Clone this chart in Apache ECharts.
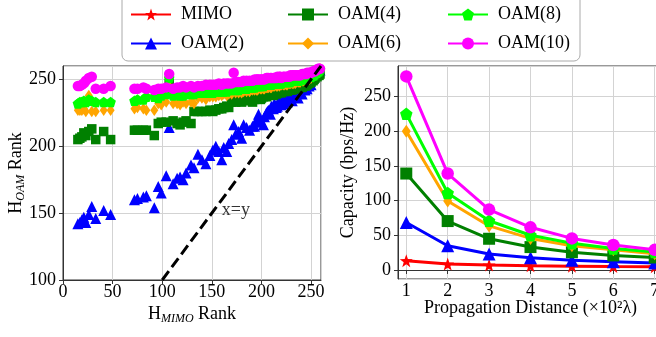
<!DOCTYPE html>
<html>
<head>
<meta charset="utf-8">
<script src="https://cdn.jsdelivr.net/npm/echarts@6.0.0/dist/echarts.min.js"></script>
<style>
html, body { margin: 0; padding: 0; background: #fff; }
#chart { width: 656px; height: 337px; }
</style>
</head>
<body>
<div id="chart"></div>
<script>
// right panel: capacity vs propagation distance (x100 lambda)
const distance = [1, 2, 3, 4, 5, 6, 7];
const capMIMO = [13.4, 8.5, 7, 6, 5.5, 5, 4.7];
const capOAM2 = [68.5, 35, 23, 17.5, 14, 12, 10];
const capOAM4 = [139, 70.5, 45, 33, 25.5, 21, 18];
const capOAM6 = [200, 99.5, 63.5, 45.5, 35, 29, 23.5];
const capOAM8 = [225, 111, 71, 50, 38.5, 31, 26];
const capOAM10 = [279, 139, 87, 61.5, 45.5, 36, 29];

// left panel: rank of H_MIMO vs rank of H_OAM, one entry per realisation
const mimoRank = [
  15, 17, 19, 21, 23, 26, 29, 33, 41, 48,
  72, 75, 81, 84, 92, 96, 99, 104, 107, 111,
  115, 118, 121, 124, 129, 132, 136, 140, 144, 148,
  151, 154, 157, 160, 162, 165, 167, 170, 172, 174,
  177, 180, 182, 185, 188, 191, 193, 195, 197, 199,
  202, 205, 207, 210, 212, 215, 218, 220, 223, 226,
  228, 231, 234, 237, 239, 241, 244, 246, 248, 250,
  252, 254, 256, 258, 259,
  196, 200, 203, 206, 209, 213, 216, 219, 222, 225,
  229, 232, 235, 238, 242, 245, 249, 253, 257
];
const rankOAM2 = [
  142, 143, 145, 147, 143, 149, 155, 146, 152, 149,
  160, 161, 162, 163, 154, 170, 165, 178, 214, 172,
  176, 177, 175, 180, 186, 184, 194, 190, 187, 193,
  197, 200, 196, 190, 199, 196, 202, 205, 216, 209,
  211, 206, 216, 214, 212, 215, 215, 219, 224, 219,
  216, 225, 227, 230, 228, 229, 233, 231, 235, 233,
  235, 234, 237, 236, 240, 239, 242, 243, 245, 246,
  251, 253, 254, 256, 257,
  221, 218, 222, 226, 224, 232, 230, 236, 232, 238,
  237, 239, 240, 243, 244, 246, 249, 252, 256
];
const rankOAM4 = [
  205, 206, 207, 210, 208, 211, 213, 205, 211, 205,
  212, 212, 212, 212, 208, 217, 218, 218, 247, 219,
  217, 216, 218, 219, 217, 226, 226, 226, 226, 227,
  226, 227, 228, 228, 229, 230, 229, 233, 238, 233,
  234, 233, 235, 236, 234, 233, 235, 236, 236, 235,
  237, 237, 238, 239, 238, 239, 240, 240, 241, 241,
  242, 242, 243, 243, 244, 244, 245, 246, 247, 248,
  249, 251, 252, 253, 254,
  237, 236, 238, 238, 239, 240, 240, 241, 241, 242,
  242, 243, 243, 244, 245, 246, 248, 250, 253
];
const rankOAM6 = [
  227, 227, 227, 228, 226, 238, 226, 226, 227, 227,
  228, 229, 228, 227, 227, 232, 231, 233, 249, 232,
  232, 231, 233, 232, 233, 232, 236, 236, 235, 237,
  237, 237, 238, 238, 239, 238, 239, 239, 244, 240,
  240, 240, 241, 241, 241, 242, 242, 242, 243, 243,
  243, 244, 244, 244, 245, 245, 245, 246, 246, 246,
  247, 247, 247, 248, 248, 249, 249, 250, 250, 251,
  252, 253, 255, 257, 258,
  242, 243, 243, 244, 244, 245, 245, 246, 246, 246,
  247, 247, 248, 248, 249, 250, 251, 253, 256
];
const rankOAM8 = [
  232, 233, 233, 234, 233, 235, 234, 233, 233, 233,
  234, 235, 235, 237, 237, 236, 238, 239, 251, 238,
  239, 238, 238, 239, 239, 239, 240, 240, 240, 240,
  240, 241, 241, 241, 241, 241, 242, 242, 247, 242,
  242, 243, 243, 243, 244, 244, 244, 245, 245, 245,
  245, 246, 246, 246, 247, 247, 247, 247, 248, 248,
  248, 249, 249, 249, 250, 250, 251, 251, 252, 252,
  253, 254, 255, 256, 257,
  245, 245, 246, 246, 246, 247, 247, 247, 248, 248,
  248, 249, 249, 249, 250, 251, 252, 253, 256
];
const rankOAM10 = [
  245, 245, 246, 247, 249, 251, 252, 243, 243, 245,
  243, 243, 244, 243, 242, 243, 243, 244, 254, 243,
  244, 244, 245, 244, 245, 244, 245, 245, 246, 246,
  246, 246, 247, 246, 247, 247, 247, 247, 255, 248,
  248, 248, 249, 249, 249, 249, 250, 250, 250, 250,
  250, 251, 251, 251, 251, 251, 252, 251, 252, 252,
  252, 253, 253, 253, 253, 254, 254, 255, 255, 255,
  256, 256, 257, 258, 258,
  250, 250, 250, 251, 251, 251, 252, 252, 252, 252,
  253, 253, 253, 253, 254, 254, 255, 256, 258
];
const diagLine = [[100, 100], [260, 260]];
const diagText = [[159, 152]];

const FONT = 'Liberation Serif';
const names = ['MIMO', 'OAM(2)', 'OAM(4)', 'OAM(6)', 'OAM(8)', 'OAM(10)'];
const colors = ['#ff0000', '#0000ff', '#008000', '#ffa500', '#00ff00', '#ff00ff'];
const starPath = 'path://M0,-10L2.35,-3.24L9.51,-3.09L3.8,1.24L5.88,8.09L0,4L-5.88,8.09L-3.8,1.24L-9.51,-3.09L-2.35,-3.24Z';
const pentPath = 'path://M0,-10L9.51,-3.09L5.88,8.09L-5.88,8.09L-9.51,-3.09Z';
const symbols = [starPath, 'triangle', 'rect', 'diamond', pentPath, 'circle'];
const lineSymbolSize = [13, 13, 12, [9, 13], 12.5, 12.5];
const dotSymbolSize = [0, 11, 9.5, [8, 11.5], 10.5, 10.5];
const capacity = [capMIMO, capOAM2, capOAM4, capOAM6, capOAM8, capOAM10];
const ranks = [null, rankOAM2, rankOAM4, rankOAM6, rankOAM8, rankOAM10];

const tickText = {fontFamily: FONT, fontSize: 18, color: '#000'};
const nameRich = {
    a: {fontFamily: FONT, fontSize: 18, color: '#000', lineHeight: 22},
    s: {fontFamily: FONT, fontSize: 12, fontStyle: 'italic', color: '#000', lineHeight: 12, verticalAlign: 'bottom'}
};

function axisCommon () {
    return {
        type: 'value',
        nameMoveOverlap: false,
        axisLine: {show: true, lineStyle: {color: '#333', width: 1}},
        axisTick: {show: true, length: 4, lineStyle: {color: '#333'}},
        splitLine: {show: true, lineStyle: {color: '#d3d3d3', width: 1}},
        axisLabel: Object.assign({showMinLabel: true, showMaxLabel: false}, tickText)
    }
}

function initChart () {
    return echarts.init(document.getElementById('chart'), null, {renderer: 'canvas'});
}

function renderChart (chart) {
    let series = []
    // capacity curves first so the legend takes their icons
    names.forEach((name, i) => {
        series.push({
            name: name,
            type: 'line',
            xAxisIndex: 1,
            yAxisIndex: 1,
            data: distance.map((d, j) => [d, capacity[i][j]]),
            symbol: symbols[i],
            symbolSize: lineSymbolSize[i],
            showSymbol: true,
            color: colors[i],
            itemStyle: {color: colors[i]},
            lineStyle: {color: colors[i], width: 3},
            z: 2 + i * 0.01
        })
    })
    names.forEach((name, i) => {
        if (!ranks[i]) return
        series.push({
            name: name,
            type: 'scatter',
            xAxisIndex: 0,
            yAxisIndex: 0,
            data: mimoRank.map((x, j) => [x, ranks[i][j]]),
            symbol: symbols[i],
            symbolSize: dotSymbolSize[i],
            itemStyle: {color: colors[i], opacity: 1},
            z: 2 + i * 0.01
        })
    })
    series.push({
        type: 'line',
        xAxisIndex: 0,
        yAxisIndex: 0,
        data: diagLine,
        symbol: 'none',
        lineStyle: {color: '#000', width: 3, type: [11, 5]},
        z: 3
    })
    series.push({
        type: 'scatter',
        xAxisIndex: 0,
        yAxisIndex: 0,
        data: diagText,
        symbolSize: 2,
        itemStyle: {color: 'rgba(0,0,0,0)'},
        label: {show: true, position: 'right', distance: 0, formatter: 'x=y', fontFamily: FONT, fontSize: 18, color: '#000'},
        z: 4
    })

    let legendBase = {
        orient: 'vertical',
        top: 4,
        padding: 0,
        itemGap: 8,
        itemWidth: 40,
        itemHeight: 15,
        selectedMode: false,
        textStyle: {fontFamily: FONT, fontSize: 18, color: '#000', lineHeight: 21, padding: [0, 0, 0, 5]}
    }

    chart.setOption({
        animation: false,
        backgroundColor: '#fff',
        graphic: [{
            type: 'rect',
            shape: {x: 122, y: -10, width: 458, height: 71, r: 6},
            style: {fill: '#fff', stroke: '#aaaaaa', lineWidth: 1},
            z: 1
        }],
        legend: [
            Object.assign({left: 130, data: ['MIMO', 'OAM(2)']}, legendBase),
            Object.assign({left: 287, data: ['OAM(4)', 'OAM(6)']}, legendBase),
            Object.assign({left: 447, data: ['OAM(8)', 'OAM(10)']}, legendBase)
        ],
        grid: [
            {left: 63, top: 66, right: 335, bottom: 57, show: true, borderColor: '#333', borderWidth: 1, outerBoundsMode: 'none'},
            {left: 398, top: 66, right: -7, bottom: 58, show: true, borderColor: '#333', borderWidth: 1, outerBoundsMode: 'none'}
        ],
        xAxis: [
            Object.assign(axisCommon(), {
                gridIndex: 0, min: 0, max: 260, interval: 50,
                name: '{a|H}{s|MIMO}{a| Rank}', nameLocation: 'middle', nameGap: 23,
                nameTextStyle: {rich: nameRich}
            }),
            Object.assign(axisCommon(), {
                gridIndex: 1, min: 0.8, max: 7.2, splitNumber: 6,
                name: 'Propagation Distance (×10²λ)', nameLocation: 'middle', nameGap: 19,
                nameTextStyle: {fontFamily: FONT, fontSize: 18, color: '#000', lineHeight: 20}
            })
        ],
        yAxis: [
            Object.assign(axisCommon(), {
                gridIndex: 0, min: 100, max: 260, interval: 50,
                name: '{a|H}{s|OAM}{a| Rank}', nameLocation: 'middle', nameRotate: 90, nameGap: 36,
                nameTextStyle: {rich: nameRich}
            }),
            Object.assign(axisCommon(), {
                gridIndex: 1, min: -13, max: 294, splitNumber: 6,
                name: 'Capacity (bps/Hz)', nameLocation: 'middle', nameRotate: 90, nameGap: 40,
                nameTextStyle: {fontFamily: FONT, fontSize: 18, color: '#000', lineHeight: 20}
            })
        ],
        series: series
    })
}

const chart = initChart()
// min tick labels are off-grid values on the right panel
renderChart(chart)
chart.setOption({
    xAxis: [{axisLabel: {margin: 3}}, {axisLabel: {margin: 3, showMinLabel: false}}],
    yAxis: [{axisLabel: {margin: 7}}, {axisLabel: {margin: 7, showMinLabel: false}}]
})
</script>
</body>
</html>
